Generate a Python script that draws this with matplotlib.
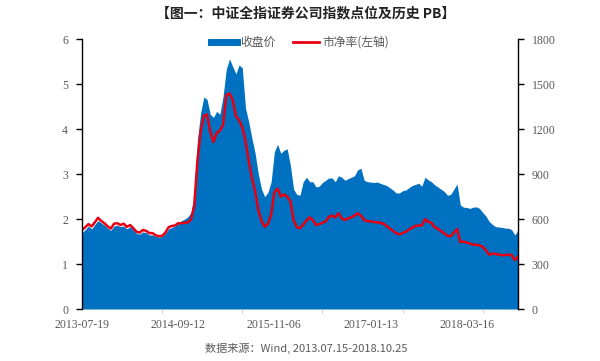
import matplotlib
matplotlib.use("Agg")
import matplotlib.pyplot as plt
from matplotlib.lines import Line2D
import numpy as np

plt.rcParams['font.family'] = ['Liberation Serif', 'Noto Sans CJK SC', 'DejaVu Sans']

# Biweekly samples, 2013-07-19 .. 2018-10-19
pb = [1.76, 1.82, 1.89, 1.84, 1.93, 2.03, 1.96, 1.91, 1.84, 1.79,
      1.90, 1.91, 1.87, 1.90, 1.83, 1.87, 1.80, 1.72, 1.70, 1.76,
      1.74, 1.69, 1.69, 1.64, 1.62, 1.63, 1.70, 1.82, 1.85, 1.86,
      1.91, 1.91, 1.92, 1.93, 1.99, 2.30, 3.30, 3.95, 4.30, 4.33,
      3.95, 3.72, 3.92, 3.97, 4.10, 4.76, 4.80, 4.65, 4.30, 4.20,
      4.05, 3.74, 3.30, 2.92, 2.62, 2.20, 1.96, 1.83, 1.90, 2.10,
      2.60, 2.68, 2.50, 2.55, 2.50, 2.40, 1.98, 1.82, 1.80, 1.88,
      1.97, 2.04, 1.98, 1.87, 1.89, 1.92, 1.95, 2.05, 2.08, 2.04,
      2.13, 2.02, 1.98, 2.02, 2.04, 2.08, 2.13, 2.08, 1.98, 1.96,
      1.95, 1.94, 1.93, 1.92, 1.90, 1.85, 1.79, 1.74, 1.69, 1.66,
      1.69, 1.72, 1.77, 1.81, 1.85, 1.86, 1.86, 2.00, 1.94, 1.92,
      1.82, 1.79, 1.73, 1.69, 1.63, 1.62, 1.70, 1.78, 1.49, 1.50,
      1.48, 1.46, 1.43, 1.43, 1.42, 1.38, 1.31, 1.21, 1.23, 1.23,
      1.21, 1.20, 1.20, 1.21, 1.20, 1.09, 1.16]

close = [510, 530, 555, 535, 565, 590, 575, 560, 540, 525,
         555, 560, 550, 555, 535, 550, 530, 505, 500, 515,
         510, 495, 495, 485, 480, 485, 505, 535, 545, 555,
         570, 590, 600, 615, 645, 760, 1130, 1310, 1415, 1400,
         1300, 1280, 1320, 1300, 1420, 1600, 1670, 1620, 1570, 1630,
         1610, 1340, 1250, 1140, 1040, 900, 800, 750, 780, 850,
         1050, 1100, 1040, 1060, 1070, 960, 800, 765, 760, 850,
         880, 850, 850, 815, 820, 845, 860, 875, 875, 850,
         890, 880, 860, 870, 880, 890, 930, 940, 860, 850,
         848, 845, 848, 840, 832, 825, 810, 795, 775, 775,
         790, 795, 810, 825, 832, 840, 820, 880, 862, 850,
         830, 815, 800, 785, 760, 765, 800, 835, 695, 680,
         678, 672, 680, 682, 672, 645, 620, 585, 565, 550,
         548, 545, 540, 540, 530, 495, 525]

tick_labels = ['2013-07-19', '2014-09-12', '2015-11-06', '2017-01-13', '2018-03-16']
tick_weeks = [0, 60, 120, 180, 240]

weeks = np.arange(len(pb)) * 2

BLUE = '#0070C0'
RED = '#E60012'
GRAY = '#595959'

fig = plt.figure(figsize=(6.0, 3.61), dpi=100)
ax = fig.add_axes([0.1367, 0.144, 0.7266, 0.7466])
ax2 = ax.twinx()

ax2.fill_between(weeks, close, 0, color=BLUE, linewidth=0)
ax.plot(weeks, pb, color=RED, linewidth=1.8)

ax.set_zorder(ax2.get_zorder() + 1)
ax.patch.set_visible(False)

ax.set_xlim(0, weeks[-1])
ax.set_ylim(0, 6)
ax2.set_ylim(0, 1800)
ax.set_yticks(range(0, 7))
ax2.set_yticks(range(0, 1801, 300))

ax.set_xticks(tick_weeks)
ax.set_xticklabels(tick_labels)
ax.set_xticks(range(0, 251, 50), minor=True)
ax.tick_params(axis='x', which='major', length=0, labelsize=8.5, labelcolor=GRAY, pad=7)
ax.tick_params(axis='x', which='minor', length=3, color='#C8C8C8', direction='out')

for a in (ax, ax2):
    a.tick_params(axis='y', length=4, width=1, color='black', labelsize=8.5, labelcolor=GRAY, pad=6)
    for s in ('top', 'bottom'):
        a.spines[s].set_visible(False)
    a.spines['left'].set_linewidth(1.0)
    a.spines['right'].set_linewidth(1.0)
ax.spines['right'].set_visible(False)
ax2.spines['left'].set_visible(False)

handles = [Line2D([0], [0], color=BLUE, linewidth=5),
           Line2D([0], [0], color=RED, linewidth=2)]
leg = ax.legend(handles, ['收盘价', '市净率(左轴)'], loc='center',
                bbox_to_anchor=(0.5, 0.99), borderaxespad=0, ncol=2, frameon=False,
                handlelength=2.2, handletextpad=0.3, columnspacing=1.5,
                prop={'family': ['Noto Sans CJK SC', 'DejaVu Sans'], 'size': 8.5})
for t in leg.get_texts():
    t.set_color(GRAY)

fig.text(0.51, 0.962, '【图一：中证全指证券公司指数点位及历史 PB】', ha='center', va='center',
         fontsize=10, fontweight='bold', family=['Noto Sans CJK SC', 'DejaVu Sans'], color='#222222')
fig.text(0.51, 0.036, '数据来源：Wind, 2013.07.15-2018.10.25', ha='center', va='center',
         fontsize=8, family=['Noto Sans CJK SC', 'DejaVu Sans'], color=GRAY)

fig.savefig('out.png', dpi=100)
